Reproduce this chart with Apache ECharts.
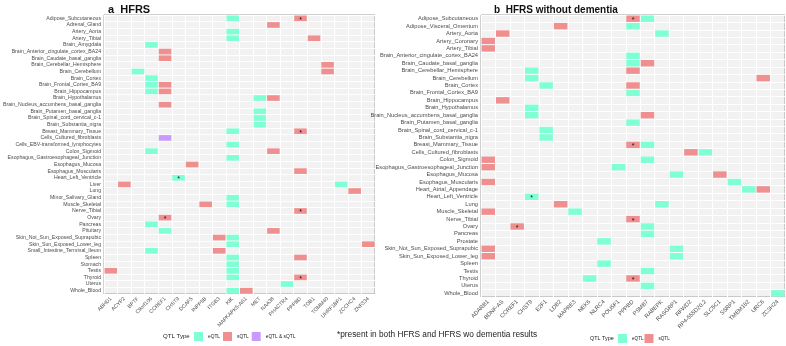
<!DOCTYPE html>
<html>
<head>
<meta charset="utf-8">
<script src="https://cdn.jsdelivr.net/npm/echarts@6/dist/echarts.min.js"></script>
<style>html,body{margin:0;padding:0;background:#fff}#main{width:786px;height:346px}</style>
</head>
<body>
<div id="main"></div>
<script>
// panel a: HFRS
var genesA = ['ABHD1', 'ACYP2', 'BPTF', 'C9orf106', 'CCREF1', 'CHST9', 'DCAF5', 'INPP5B', 'ITGB3', 'KIK',
  'MAPKAPK5-AS1', 'MET', 'NAA38', 'PHACTR4', 'PPPBD', 'TOB1', 'TOMM40', 'UHRF1BP1', 'ZCCHC4', 'ZNF334']
var tissuesA = ['Adipose_Subcutaneous', 'Adrenal_Gland', 'Artery_Aorta', 'Artery_Tibial', 'Brain_Amygdala',
  'Brain_Anterior_cingulate_cortex_BA24', 'Brain_Caudate_basal_ganglia', 'Brain_Cerebellar_Hemisphere',
  'Brain_Cerebellum', 'Brain_Cortex', 'Brain_Frontal_Cortex_BA9', 'Brain_Hippocampus', 'Brain_Hypothalamus',
  'Brain_Nucleus_accumbens_basal_ganglia', 'Brain_Putamen_basal_ganglia', 'Brain_Spinal_cord_cervical_c-1',
  'Brain_Substantia_nigra', 'Breast_Mammary_Tissue', 'Cells_Cultured_fibroblasts',
  'Cells_EBV-transformed_lymphocytes', 'Colon_Sigmoid', 'Esophagus_Gastroesophageal_Junction',
  'Esophagus_Mucosa', 'Esophagus_Muscularis', 'Heart_Left_Ventricle', 'Liver', 'Lung', 'Minor_Salivary_Gland',
  'Muscle_Skeletal', 'Nerve_Tibial', 'Ovary', 'Pancreas', 'Pituitary', 'Skin_Not_Sun_Exposed_Suprapubic',
  'Skin_Sun_Exposed_Lower_leg', 'Small_Intestine_Terminal_Ileum', 'Spleen', 'Stomach', 'Testis', 'Thyroid',
  'Uterus', 'Whole_Blood']
var eqtlA = [
  ['KIK', 'Adipose_Subcutaneous'], ['KIK', 'Artery_Aorta'], ['KIK', 'Artery_Tibial'],
  ['C9orf106', 'Brain_Amygdala'], ['BPTF', 'Brain_Cerebellum'], ['C9orf106', 'Brain_Cortex'],
  ['C9orf106', 'Brain_Frontal_Cortex_BA9'], ['C9orf106', 'Brain_Hippocampus'], ['MET', 'Brain_Hypothalamus'],
  ['MET', 'Brain_Putamen_basal_ganglia'], ['MET', 'Brain_Spinal_cord_cervical_c-1'], ['MET', 'Brain_Substantia_nigra'],
  ['KIK', 'Breast_Mammary_Tissue'], ['KIK', 'Cells_EBV-transformed_lymphocytes'], ['C9orf106', 'Colon_Sigmoid'],
  ['KIK', 'Esophagus_Gastroesophageal_Junction'], ['CHST9', 'Heart_Left_Ventricle'], ['UHRF1BP1', 'Liver'],
  ['KIK', 'Minor_Salivary_Gland'], ['KIK', 'Muscle_Skeletal'], ['C9orf106', 'Pancreas'], ['CCREF1', 'Pituitary'],
  ['KIK', 'Skin_Not_Sun_Exposed_Suprapubic'], ['KIK', 'Skin_Sun_Exposed_Lower_leg'],
  ['C9orf106', 'Small_Intestine_Terminal_Ileum'], ['KIK', 'Spleen'], ['KIK', 'Stomach'], ['KIK', 'Testis'],
  ['KIK', 'Thyroid'], ['PHACTR4', 'Uterus'], ['KIK', 'Whole_Blood']
]
var sqtlA = [
  ['PPPBD', 'Adipose_Subcutaneous'], ['NAA38', 'Adrenal_Gland'], ['TOB1', 'Artery_Tibial'],
  ['CCREF1', 'Brain_Anterior_cingulate_cortex_BA24'], ['CCREF1', 'Brain_Caudate_basal_ganglia'],
  ['TOMM40', 'Brain_Cerebellar_Hemisphere'], ['TOMM40', 'Brain_Cerebellum'], ['CCREF1', 'Brain_Frontal_Cortex_BA9'],
  ['CCREF1', 'Brain_Hippocampus'], ['NAA38', 'Brain_Hypothalamus'], ['CCREF1', 'Brain_Nucleus_accumbens_basal_ganglia'],
  ['PPPBD', 'Breast_Mammary_Tissue'], ['NAA38', 'Colon_Sigmoid'], ['DCAF5', 'Esophagus_Mucosa'],
  ['PPPBD', 'Esophagus_Muscularis'], ['ACYP2', 'Liver'], ['ZCCHC4', 'Lung'], ['INPP5B', 'Muscle_Skeletal'],
  ['PPPBD', 'Nerve_Tibial'], ['CCREF1', 'Ovary'], ['NAA38', 'Pituitary'], ['ITGB3', 'Skin_Not_Sun_Exposed_Suprapubic'],
  ['ZNF334', 'Skin_Sun_Exposed_Lower_leg'], ['ITGB3', 'Small_Intestine_Terminal_Ileum'], ['PPPBD', 'Spleen'],
  ['ABHD1', 'Testis'], ['PPPBD', 'Thyroid'], ['MAPKAPK5-AS1', 'Whole_Blood']
]
var bothA = [['CCREF1', 'Cells_Cultured_fibroblasts']]
var starA = [['PPPBD', 'Adipose_Subcutaneous'], ['PPPBD', 'Breast_Mammary_Tissue'], ['CHST9', 'Heart_Left_Ventricle'],
  ['PPPBD', 'Nerve_Tibial'], ['CCREF1', 'Ovary'], ['PPPBD', 'Thyroid']]

// panel b: HFRS without dementia
var genesB = ['ADARB1', 'BDNF-AS', 'CCREF1', 'CHST9', 'E2F1', 'LDB2', 'MAPRE3', 'NEK6', 'NLRC4', 'POU5F1',
  'PPPBD', 'PSMB7', 'RABEPK', 'RASGRP1', 'RFWD2', 'RP4-555D20.2', 'SLC5C1', 'SSRP1', 'TMEM182', 'URC6', 'ZC3H24']
var tissuesB = ['Adipose_Subcutaneous', 'Adipose_Visceral_Omentum', 'Artery_Aorta', 'Artery_Coronary', 'Artery_Tibial',
  'Brain_Anterior_cingulate_cortex_BA24', 'Brain_Caudate_basal_ganglia', 'Brain_Cerebellar_Hemisphere',
  'Brain_Cerebellum', 'Brain_Cortex', 'Brain_Frontal_Cortex_BA9', 'Brain_Hippocampus', 'Brain_Hypothalamus',
  'Brain_Nucleus_accumbens_basal_ganglia', 'Brain_Putamen_basal_ganglia', 'Brain_Spinal_cord_cervical_c-1',
  'Brain_Substantia_nigra', 'Breast_Mammary_Tissue', 'Cells_Cultured_fibroblasts', 'Colon_Sigmoid',
  'Esophagus_Gastroesophageal_Junction', 'Esophagus_Mucosa', 'Esophagus_Muscularis', 'Heart_Atrial_Appendage',
  'Heart_Left_Ventricle', 'Lung', 'Muscle_Skeletal', 'Nerve_Tibial', 'Ovary', 'Pancreas', 'Prostate',
  'Skin_Not_Sun_Exposed_Suprapubic', 'Skin_Sun_Exposed_Lower_leg', 'Spleen', 'Testis', 'Thyroid', 'Uterus', 'Whole_Blood']
var eqtlB = [
  ['PSMB7', 'Adipose_Subcutaneous'], ['PPPBD', 'Adipose_Visceral_Omentum'], ['RABEPK', 'Artery_Aorta'],
  ['PPPBD', 'Brain_Anterior_cingulate_cortex_BA24'], ['PPPBD', 'Brain_Caudate_basal_ganglia'],
  ['CHST9', 'Brain_Cerebellar_Hemisphere'], ['CHST9', 'Brain_Cerebellum'], ['E2F1', 'Brain_Cortex'],
  ['PPPBD', 'Brain_Frontal_Cortex_BA9'], ['CHST9', 'Brain_Hypothalamus'], ['CHST9', 'Brain_Nucleus_accumbens_basal_ganglia'],
  ['PPPBD', 'Brain_Putamen_basal_ganglia'], ['E2F1', 'Brain_Spinal_cord_cervical_c-1'], ['E2F1', 'Brain_Substantia_nigra'],
  ['PSMB7', 'Breast_Mammary_Tissue'], ['RP4-555D20.2', 'Cells_Cultured_fibroblasts'], ['PSMB7', 'Colon_Sigmoid'],
  ['POU5F1', 'Esophagus_Gastroesophageal_Junction'], ['RASGRP1', 'Esophagus_Mucosa'], ['SSRP1', 'Esophagus_Muscularis'],
  ['TMEM182', 'Heart_Atrial_Appendage'], ['CHST9', 'Heart_Left_Ventricle'], ['RABEPK', 'Lung'],
  ['MAPRE3', 'Muscle_Skeletal'], ['PSMB7', 'Ovary'], ['PSMB7', 'Pancreas'], ['NLRC4', 'Prostate'],
  ['RASGRP1', 'Skin_Not_Sun_Exposed_Suprapubic'], ['RASGRP1', 'Skin_Sun_Exposed_Lower_leg'], ['NLRC4', 'Spleen'],
  ['PSMB7', 'Testis'], ['NEK6', 'Thyroid'], ['PSMB7', 'Uterus'], ['ZC3H24', 'Whole_Blood']
]
var sqtlB = [
  ['PPPBD', 'Adipose_Subcutaneous'], ['LDB2', 'Adipose_Visceral_Omentum'], ['BDNF-AS', 'Artery_Aorta'],
  ['ADARB1', 'Artery_Coronary'], ['ADARB1', 'Artery_Tibial'], ['PSMB7', 'Brain_Caudate_basal_ganglia'],
  ['PPPBD', 'Brain_Cerebellar_Hemisphere'], ['URC6', 'Brain_Cerebellum'], ['PPPBD', 'Brain_Cortex'],
  ['BDNF-AS', 'Brain_Hippocampus'], ['PSMB7', 'Brain_Nucleus_accumbens_basal_ganglia'], ['PPPBD', 'Breast_Mammary_Tissue'],
  ['RFWD2', 'Cells_Cultured_fibroblasts'], ['ADARB1', 'Colon_Sigmoid'], ['ADARB1', 'Esophagus_Gastroesophageal_Junction'],
  ['SLC5C1', 'Esophagus_Mucosa'], ['ADARB1', 'Esophagus_Muscularis'], ['URC6', 'Heart_Atrial_Appendage'],
  ['LDB2', 'Lung'], ['ADARB1', 'Muscle_Skeletal'], ['PPPBD', 'Nerve_Tibial'], ['CCREF1', 'Ovary'],
  ['ADARB1', 'Skin_Not_Sun_Exposed_Suprapubic'], ['ADARB1', 'Skin_Sun_Exposed_Lower_leg'], ['PPPBD', 'Thyroid']
]
var starB = [['PPPBD', 'Adipose_Subcutaneous'], ['PPPBD', 'Breast_Mammary_Tissue'], ['CHST9', 'Heart_Left_Ventricle'],
  ['PPPBD', 'Nerve_Tibial'], ['CCREF1', 'Ovary'], ['PPPBD', 'Thyroid']]

var EQTL = '#7FFFD4', SQTL = '#F08F8F', BOTH = '#C99BFF'
var FONT = 'Liberation Sans, Arial, sans-serif'

function cellSeries(name, color, data, idx) {
  return {
    name: name,
    type: 'custom',
    xAxisIndex: idx,
    yAxisIndex: idx,
    itemStyle: { color: color },
    encode: { x: 0, y: 1 },
    data: data,
    renderItem: function (params, api) {
      var c = api.coord([api.value(0), api.value(1)])
      var s = api.size([1, 1])
      return {
        type: 'rect',
        shape: { x: c[0] - s[0] / 2 + 0.5, y: c[1] - s[1] / 2 + 0.5, width: s[0] - 1, height: s[1] - 1 },
        style: { fill: color }
      }
    }
  }
}

function starSeries(data, idx) {
  return {
    type: 'custom',
    xAxisIndex: idx,
    yAxisIndex: idx,
    encode: { x: 0, y: 1 },
    silent: true,
    z: 5,
    data: data,
    renderItem: function (params, api) {
      var c = api.coord([api.value(0), api.value(1)])
      return {
        type: 'text',
        x: c[0],
        y: c[1] + 1.5,
        style: { text: '*', fill: '#111', fontSize: 7, fontFamily: FONT, align: 'center', verticalAlign: 'middle' }
      }
    }
  }
}

function xAxis(genes, idx, fs) {
  return {
    type: 'category', gridIndex: idx, data: genes,
    axisTick: { show: false }, axisLine: { show: false },
    axisLabel: { rotate: 45, interval: 0, fontSize: fs, color: '#4d4d4d', margin: 4, fontFamily: FONT },
    splitLine: { show: true, lineStyle: { color: '#ffffff', width: 1 } }
  }
}
function yAxis(tissues, idx, fs) {
  return {
    type: 'category', gridIndex: idx, data: tissues, inverse: true,
    axisTick: { show: false }, axisLine: { show: false },
    axisLabel: { interval: 0, fontSize: fs, color: '#4d4d4d', margin: 3, fontFamily: FONT },
    splitLine: { show: true, lineStyle: { color: '#ffffff', width: 1 } }
  }
}

var chart = echarts.init(document.getElementById('main'))
chart.setOption({
  backgroundColor: '#ffffff',
  animation: false,
  textStyle: { fontFamily: FONT },
  title: [
    { text: 'a  HFRS', left: 103, top: -1, textStyle: { fontSize: 11, fontWeight: 'bold', color: '#111', fontFamily: FONT } },
    { text: 'b  HFRS without dementia', left: 489, top: 0, textStyle: { fontSize: 10, fontWeight: 'bold', color: '#111', fontFamily: FONT } }
  ],
  grid: [
    { left: 103, top: 15, width: 272, height: 279, show: true, backgroundColor: '#f2f2f2', borderColor: '#a0a0a0', borderWidth: 1 },
    { left: 481, top: 15, width: 304, height: 282, show: true, backgroundColor: '#f2f2f2', borderColor: '#a0a0a0', borderWidth: 1 }
  ],
  xAxis: [xAxis(genesA, 0, 5.2), xAxis(genesB, 1, 5.7)],
  yAxis: [yAxis(tissuesA, 0, 5.2), yAxis(tissuesB, 1, 5.7)],
  legend: [
    {
      data: ['eQTL', 'sQTL', 'eQTL & sQTL'], left: 194, top: 332, padding: 0,
      icon: 'rect', itemWidth: 9, itemHeight: 9, itemGap: 3,
      textStyle: { fontSize: 4.8, color: '#222', fontFamily: FONT }
    },
    {
      data: ['eQTL', 'sQTL'], left: 618, top: 334, padding: 0,
      icon: 'rect', itemWidth: 9, itemHeight: 9, itemGap: 1,
      textStyle: { fontSize: 4.6, color: '#222', fontFamily: FONT }
    }
  ],
  graphic: [
    { type: 'text', left: 163, top: 333, style: { text: 'QTL Type', fontSize: 6.1, fill: '#222', fontFamily: FONT } },
    { type: 'text', left: 590, top: 336, style: { text: 'QTL Type', fontSize: 5.4, fill: '#222', fontFamily: FONT } },
    { type: 'text', left: 337, top: 331, style: { text: '*present in both HFRS and HFRS wo dementia results', fontSize: 8.3, fill: '#222', fontFamily: FONT } }
  ],
  series: [
    cellSeries('eQTL', EQTL, eqtlA, 0),
    cellSeries('sQTL', SQTL, sqtlA, 0),
    cellSeries('eQTL & sQTL', BOTH, bothA, 0),
    starSeries(starA, 0),
    cellSeries('eQTL', EQTL, eqtlB, 1),
    cellSeries('sQTL', SQTL, sqtlB, 1),
    starSeries(starB, 1)
  ]
})
window.addEventListener('resize', function () { chart.resize() })
</script>
</body>
</html>
